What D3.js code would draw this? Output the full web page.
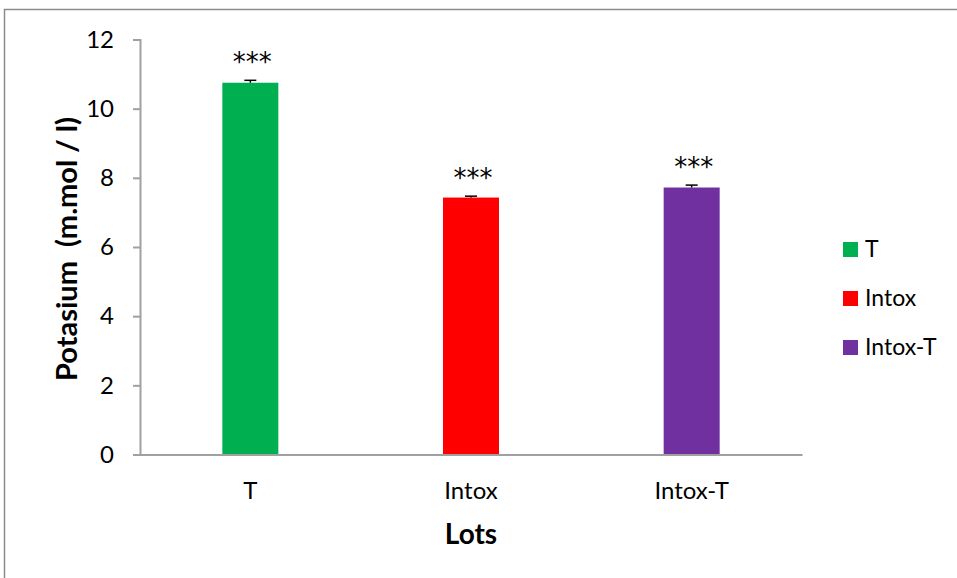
<!DOCTYPE html>
<html>
<head>
<meta charset="utf-8">
<script src="https://cdn.jsdelivr.net/npm/d3@7"></script>
<style>
  html, body { margin: 0; padding: 0; background: #fff; }
  svg text { font-family: Lato, "Open Sans", sans-serif; fill: #000; }
</style>
</head>
<body>
<svg id="chart" width="957" height="578"></svg>
<script>
// Potassium level per group
const categories = ["T", "Intox", "Intox-T"];
const values = [10.75, 7.43, 7.72];
const errors = [0.07, 0.04, 0.07];
const significance = ["***", "***", "***"];
const colors = ["#00b050", "#ff0000", "#7030a0"];
const yTicks = [0, 2, 4, 6, 8, 10, 12];

const svg = d3.select("#chart");

// outer frame
svg.append("rect")
  .attr("x", 4.5).attr("y", 9.5)
  .attr("width", 1000).attr("height", 700)
  .attr("fill", "none").attr("stroke", "#8c8c8c").attr("stroke-width", 1.5);

const plot = { left: 140, right: 802, top: 39.5, bottom: 454.5 };

const x = d3.scaleBand()
  .domain(categories)
  .range([plot.left, plot.right])
  .paddingInner(0).paddingOuter(0);

const y = d3.scaleLinear()
  .domain([0, 12])
  .range([plot.bottom, plot.top]);

const barWidth = 56;

// bars
svg.selectAll("rect.bar")
  .data(categories)
  .join("rect")
  .attr("class", "bar")
  .attr("x", d => x(d) + x.bandwidth() / 2 - barWidth / 2)
  .attr("width", barWidth)
  .attr("y", (d, i) => y(values[i]))
  .attr("height", (d, i) => y(0) - y(values[i]))
  .attr("fill", (d, i) => colors[i]);

// y axis
const yAxis = svg.append("g")
  .attr("transform", `translate(${plot.left},0)`)
  .call(d3.axisLeft(y).tickValues(yTicks).tickSize(7).tickPadding(19).tickFormat(d3.format("d")));
yAxis.select(".domain").attr("stroke", "#a0a0a0").attr("stroke-width", 2);
yAxis.selectAll(".tick line").attr("stroke", "#a0a0a0").attr("stroke-width", 2);
yAxis.selectAll(".tick text").attr("font-size", 24).style("font-family", "Lato, sans-serif");

// x axis
const xAxis = svg.append("g")
  .attr("transform", `translate(0,${plot.bottom})`)
  .call(d3.axisBottom(x).tickSize(0).tickPadding(27));
xAxis.select(".domain").attr("stroke", "#a0a0a0").attr("stroke-width", 2);
xAxis.selectAll(".tick text").attr("font-size", 24).style("font-family", "Lato, sans-serif");

// error bars
const err = svg.append("g").attr("stroke", "#000").attr("stroke-width", 1.5);
categories.forEach((c, i) => {
  const cx = x(c) + x.bandwidth() / 2;
  err.append("line")
    .attr("x1", cx).attr("x2", cx)
    .attr("y1", y(values[i])).attr("y2", y(values[i] + errors[i]));
  err.append("line")
    .attr("x1", cx - 6).attr("x2", cx + 6)
    .attr("y1", y(values[i] + errors[i])).attr("y2", y(values[i] + errors[i]));
});

// significance marks
svg.selectAll("text.sig")
  .data(categories)
  .join("text")
  .attr("class", "sig")
  .attr("x", d => x(d) + x.bandwidth() / 2 + 2)
  .attr("y", (d, i) => y(values[i] + errors[i]) - 9)
  .attr("text-anchor", "middle")
  .attr("font-size", 26)
  .style("font-family", "'DejaVu Sans', sans-serif")
  .text((d, i) => significance[i]);

// axis titles
svg.append("text")
  .attr("transform", `translate(77,${(plot.top + plot.bottom) / 2 + 2}) rotate(-90)`)
  .attr("text-anchor", "middle")
  .attr("font-size", 29)
  .attr("font-weight", "bold")
  .attr("xml:space", "preserve")
  .text("Potasium  (m.mol / l)");

svg.append("text")
  .attr("x", (plot.left + plot.right) / 2)
  .attr("y", 544)
  .attr("text-anchor", "middle")
  .attr("font-size", 28)
  .attr("font-weight", "bold")
  .text("Lots");

// legend
const legend = svg.append("g");
categories.forEach((c, i) => {
  const ly = 249 + i * 49;
  legend.append("rect")
    .attr("x", 843).attr("y", ly - 7)
    .attr("width", 15).attr("height", 15)
    .attr("fill", colors[i]);
  legend.append("text")
    .attr("x", 865).attr("y", ly)
    .attr("dy", "0.35em")
    .attr("font-size", 23)
    .text(c);
});
</script>
</body>
</html>
